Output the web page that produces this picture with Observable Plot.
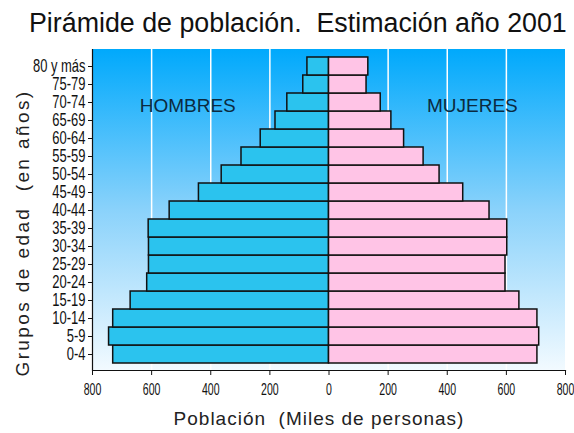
<!DOCTYPE html>
<html>
<head>
<meta charset="utf-8">
<script src="https://cdn.jsdelivr.net/npm/d3@7"></script>
<script src="https://cdn.jsdelivr.net/npm/@observablehq/plot@0.6"></script>
<style>
  html, body { margin: 0; padding: 0; background: #fff; }
  #title { height: 40px; line-height: 46px; font-family: "Liberation Sans", Arial, sans-serif; font-size: 26.8px; color: #111; padding-left: 29px; white-space: pre; }
  #chart { position: relative; }
</style>
</head>
<body>
<div id="title">Pirámide de población.  Estimación año 2001</div>
<div id="chart"></div>
<script>
const ageGroups = ["0-4","5-9","10-14","15-19","20-24","25-29","30-34","35-39","40-44","45-49","50-54","55-59","60-64","65-69","70-74","75-79","80 y más"];
const hombres = [730, 744, 730, 671, 615, 609, 609, 610, 539, 440, 363, 296, 231, 181, 141, 87, 73];
const mujeres = [705, 711, 705, 644, 597, 597, 603, 603, 543, 454, 374, 320, 254, 211, 175, 127, 133];
const xTicks = [-800, -600, -400, -200, 0, 200, 400, 600, 800];
const gridTicks = [-600, -400, -200, 200, 400, 600];
const sexLabels = [{sexo: "HOMBRES", x: -478}, {sexo: "MUJERES", x: 485}];
const xTitle = "Población  (Miles de personas)";
const yTitle = "Grupos de edad  (en años)";

const data = [];
ageGroups.forEach((g, i) => {
  data.push({grupo: g, sexo: "H", v: -hombres[i]});
  data.push({grupo: g, sexo: "M", v: mujeres[i]});
});

const background = (index, scales, values, dims) => {
  const g = d3.create("svg:g");
  const grad = g.append("defs").append("linearGradient")
    .attr("id", "bgGrad").attr("x1", 0).attr("y1", 0).attr("x2", 0).attr("y2", 1);
  grad.append("stop").attr("offset", "0%").attr("stop-color", "#00a9fc");
  grad.append("stop").attr("offset", "50%").attr("stop-color", "#8ad2fb");
  grad.append("stop").attr("offset", "100%").attr("stop-color", "#f2faff");
  g.append("rect")
    .attr("x", dims.marginLeft).attr("y", dims.marginTop)
    .attr("width", dims.width - dims.marginLeft - dims.marginRight)
    .attr("height", dims.height - dims.marginTop - dims.marginBottom)
    .attr("fill", "url(#bgGrad)");
  return g.node();
};

const sans = `"Liberation Sans", Arial, sans-serif`;

const plot = Plot.plot({
  width: 574,
  height: 393,
  marginTop: 9,
  marginBottom: 63,
  marginLeft: 92,
  marginRight: 9,
  style: {fontFamily: sans, fontSize: "16px", color: "#111", background: "transparent", overflow: "visible"},
  x: {domain: [-800, 800], ticks: xTicks},
  y: {domain: ageGroups.slice().reverse(), padding: 0},
  marks: [
    background,
    Plot.ruleX(gridTicks, {stroke: "#fff", strokeWidth: 1.5}),
    Plot.barX(data, {
      x: "v", y: "grupo",
      fill: d => d.sexo === "H" ? "#2bc3ee" : "#ffc4e6",
      stroke: "#111", strokeWidth: 1.5
    }),
    Plot.text(sexLabels, {
      x: "x", y: () => "65-69", text: "sexo",
      fontFamily: sans, fontSize: 19, fill: "#0b2a40", dy: -15
    }),
    Plot.ruleX([-800], {stroke: "#111", strokeWidth: 1.2}),
    Plot.frame({anchor: "bottom", stroke: "#111", strokeWidth: 1.2}),
    Plot.axisX({
      ticks: xTicks, tickFormat: d => Math.abs(d), tickSize: 5, tickPadding: 8,
      fontSize: 16, label: null
    }),
    Plot.axisY({tickSize: 4, tickPadding: 3, fontSize: 18, label: null}),
    Plot.text([xTitle], {frameAnchor: "bottom", textAnchor: "middle", dy: 54, dx: -10, fontSize: 19, fontFamily: sans, fill: "#222"}),
    Plot.text([yTitle], {frameAnchor: "left", textAnchor: "middle", lineAnchor: "middle", rotate: -90, dx: -70, dy: 23, fontSize: 19, fontFamily: sans, fill: "#222"})
  ]
});

// condense the tick labels horizontally, like the original narrow font
d3.select(plot).selectAll("g[aria-label='x-axis tick label'] text, g[aria-label='y-axis tick label'] text").each(function() {
  const sx = this.closest("g[aria-label='x-axis tick label']") ? 0.66 : 0.72;
  const t = this.getAttribute("transform");
  if (t) {
    this.setAttribute("transform", t + ` scale(${sx},1)`);
  } else {
    const x = +this.getAttribute("x") || 0, y = +this.getAttribute("y") || 0;
    this.removeAttribute("x"); this.removeAttribute("y");
    this.setAttribute("transform", `translate(${x},${y}) scale(${sx},1)`);
  }
});
// letter spacing of the axis titles
d3.select(plot).selectAll("text").filter(function() { return this.textContent === yTitle; }).attr("letter-spacing", "2.4px");
d3.select(plot).selectAll("text").filter(function() { return this.textContent === xTitle; }).attr("letter-spacing", "1px");

document.getElementById("chart").appendChild(plot);
</script>
</body>
</html>
